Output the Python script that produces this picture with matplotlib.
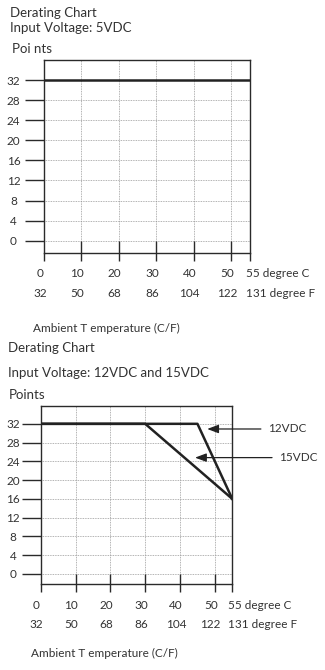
import matplotlib
matplotlib.use("Agg")
import matplotlib.pyplot as plt
import matplotlib.transforms as mtransforms

plt.rcParams['font.family'] = ['Lato', 'DejaVu Sans']

# ---- data ----
temps_c = [0, 10, 20, 30, 40, 50, 55]
temps_f = [32, 50, 68, 86, 104, 122, 131]
points_ticks = [0, 4, 8, 12, 16, 20, 24, 28, 32]

v5_x = [0, 55]
v5_y = [32, 32]
v12_x = [0, 45, 55]
v12_y = [32, 32, 16]
v15_x = [0, 30, 55]
v15_y = [32, 32, 16]

W, H = 325, 670
DPI = 100
fig = plt.figure(figsize=(W / DPI, H / DPI), dpi=DPI)
TXT = '#333333'
LINE = '#222222'
GRID = '#999999'
TICKFS = 8.5
TITLEFS = 9.5


def fx(px):
    return px / W


def fy(py):
    return 1 - py / H


def make_axes(left, right, top, bottom, ylim, ytick_pad, xlab_pad):
    ax = fig.add_axes([fx(left), fy(bottom), fx(right - left), (bottom - top) / H])
    ax.set_xlim(0, 55)
    ax.set_ylim(*ylim)
    for s in ax.spines.values():
        s.set_color('#2a2a2a')
        s.set_linewidth(1.0)
    # grid
    for y in points_ticks:
        ax.axhline(y, color=GRID, lw=0.6, ls=(0, (1, 1)), zorder=1)
    for x in temps_c[1:-1]:
        ax.axvline(x, color=GRID, lw=0.6, ls=(0, (1, 1)), zorder=1)
    # y ticks
    ax.set_yticks(points_ticks)
    ax.set_yticklabels([str(v) for v in points_ticks])
    ax.tick_params(axis='y', direction='out', length=14, width=1.0, color='#2a2a2a',
                   pad=ytick_pad, labelsize=TICKFS, labelcolor=TXT)
    for lbl in ax.get_yticklabels():
        lbl.set_ha('center')
    # x ticks (two rows: C and F)
    labels = [f"{c}\n{f}" for c, f in zip(temps_c, temps_f)]
    labels[-1] = f"{temps_c[-1]} degree C\n{temps_f[-1]} degree F"
    ax.set_xticks(temps_c)
    ax.set_xticklabels(labels, linespacing=1.95)
    ax.tick_params(axis='x', direction='out', length=5.5, width=1.0, color='#2a2a2a',
                   pad=xlab_pad, labelsize=TICKFS, labelcolor=TXT)
    shift = mtransforms.ScaledTranslation(-3 / 72, 0, fig.dpi_scale_trans)
    xl = ax.get_xticklabels()
    for lbl in xl:
        lbl.set_transform(lbl.get_transform() + shift)
    xl[-1].set_ha('left')
    xl[-1].set_multialignment('left')
    # inner part of x tick marks (from 0 line down to bottom spine)
    ax.vlines(temps_c[1:-1], ylim[0], 0, color='#2a2a2a', lw=1.0, zorder=3)
    return ax


# ---- top chart ----
ax1 = make_axes(44, 250, 60, 252.7, (-2.4, 36), 8, 5.5)
ax1.plot(v5_x, v5_y, color=LINE, lw=1.8, zorder=4, solid_capstyle='butt')

fig.text(fx(10), fy(16.7), "Derating Chart", fontsize=TITLEFS, color=TXT, va='baseline')
fig.text(fx(10), fy(31.7), "Input Voltage: 5VDC", fontsize=TITLEFS, color=TXT, va='baseline')
fig.text(fx(12), fy(52.7), "Poi nts", fontsize=TITLEFS, color=TXT, va='baseline')
fig.text(fx(33), fy(331.7), "Ambient T emperature (C/F)", fontsize=TICKFS, color=TXT, va='baseline')

# ---- bottom chart ----
ax2 = make_axes(40.7, 232.3, 406, 584.3, (-2.2, 35.8), 6, 5.5)
ax2.plot(v12_x, v12_y, color=LINE, lw=1.8, zorder=4)
ax2.plot(v15_x, v15_y, color=LINE, lw=1.8, zorder=4)

arrow = dict(arrowstyle='-|>,head_length=0.8,head_width=0.3', color=LINE, lw=0.9,
             shrinkA=3, shrinkB=0)
ax2.annotate("12VDC", xy=(47.8, 30.9), xytext=(65.2, 30.9), fontsize=TICKFS, color=TXT,
             va='center', ha='left', arrowprops=arrow, annotation_clip=False)
ax2.annotate("15VDC", xy=(44.3, 24.8), xytext=(68.4, 24.8), fontsize=TICKFS, color=TXT,
             va='center', ha='left', arrowprops=arrow, annotation_clip=False)

fig.text(fx(8.3), fy(351.7), "Derating Chart", fontsize=TITLEFS, color=TXT, va='baseline')
fig.text(fx(8.3), fy(377.3), "Input Voltage: 12VDC and 15VDC", fontsize=TITLEFS, color=TXT, va='baseline')
fig.text(fx(9), fy(399), "Points", fontsize=TITLEFS, color=TXT, va='baseline')
fig.text(fx(31), fy(657.3), "Ambient T emperature (C/F)", fontsize=TICKFS, color=TXT, va='baseline')

fig.savefig("out.png", dpi=DPI)
